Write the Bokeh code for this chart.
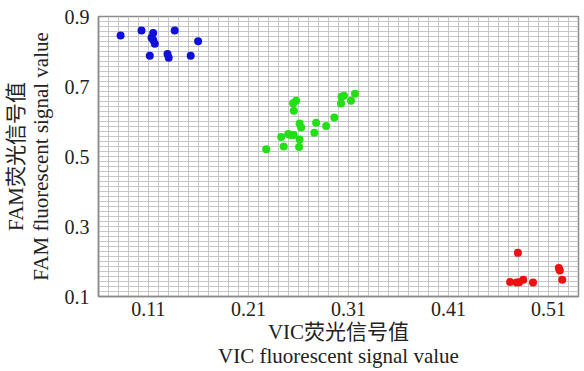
from bokeh.plotting import figure
from bokeh.models import FixedTicker, Range1d
from bokeh.embed import file_html
from bokeh.resources import INLINE

# ---- data ----
blue_x = [0.0821, 0.1030, 0.1147, 0.1130, 0.1147, 0.1163, 0.1362, 0.1596, 0.1113, 0.1290, 0.1302, 0.1522]
blue_y = [0.8455, 0.8600, 0.8530, 0.8390, 0.8330, 0.8220, 0.8600, 0.8290, 0.7880, 0.7930, 0.7820, 0.7880]

green_x = [0.2277, 0.2427, 0.2452, 0.2497, 0.2521, 0.2551, 0.2611, 0.2606, 0.2626, 0.2611, 0.2776,
           0.2759, 0.2876, 0.2958, 0.2546, 0.2576, 0.2553, 0.3030, 0.3055, 0.3025, 0.3125, 0.3165]
green_y = [0.5206, 0.5559, 0.5287, 0.5645, 0.5616, 0.5616, 0.5487, 0.5272, 0.5832, 0.5946, 0.5961,
           0.5682, 0.5875, 0.6113, 0.6520, 0.6591, 0.6305, 0.6706, 0.6735, 0.6514, 0.6591, 0.6792]

red_x = [0.4794, 0.4716, 0.4781, 0.4806, 0.4848, 0.4945, 0.5203, 0.5213, 0.5237]
red_y = [0.2247, 0.1416, 0.1401, 0.1410, 0.1479, 0.1401, 0.1811, 0.1746, 0.1479]

x_ticks = [0.11, 0.21, 0.31, 0.41, 0.51]
x_tick_labels = ["0.11", "0.21", "0.31", "0.41", "0.51"]
y_ticks = [0.1, 0.3, 0.5, 0.7, 0.9]
y_tick_labels = ["0.1", "0.3", "0.5", "0.7", "0.9"]

x_title = "VIC荧光信号值\nVIC fluorescent signal value"
y_title = "FAM荧光信号值\nFAM fluorescent signal value"

x_start, x_end = 0.06, 0.54
y_start, y_end = 0.1, 0.9
x_grid_step = 0.01
y_grid_step = 0.2 / 14

FONT = "'Liberation Serif', 'Noto Sans CJK SC'"

p = figure(width=582, height=371, output_backend="svg", toolbar_location=None,
           x_range=Range1d(x_start, x_end), y_range=Range1d(y_start, y_end),
           min_border_left=97, min_border_right=4, min_border_top=16, min_border_bottom=20)

p.background_fill_color = "white"
p.border_fill_color = "white"
p.outline_line_color = "#8a8a8a"
p.outline_line_width = 1.5

# grids
n_xg = int(round((x_end - x_start) / x_grid_step))
n_yg = int(round((y_end - y_start) / y_grid_step))
p.xgrid.ticker = FixedTicker(ticks=[x_start + i * x_grid_step for i in range(n_xg + 1)])
p.ygrid.ticker = FixedTicker(ticks=[y_start + i * y_grid_step for i in range(n_yg + 1)])
for g in (p.xgrid, p.ygrid):
    g.grid_line_color = "#c6c6c6"
    g.grid_line_width = 1
    g.grid_line_alpha = 1.0

# axes
p.xaxis.ticker = FixedTicker(ticks=x_ticks)
p.yaxis.ticker = FixedTicker(ticks=y_ticks)
p.xaxis.major_label_overrides = {t: l for t, l in zip(x_ticks, x_tick_labels)}
p.yaxis.major_label_overrides = {t: l for t, l in zip(y_ticks, y_tick_labels)}
for ax in (p.xaxis, p.yaxis):
    ax.axis_line_color = "#8a8a8a"
    ax.axis_line_width = 1.5
    ax.major_tick_line_color = None
    ax.minor_tick_line_color = None
    ax.major_tick_out = 0
    ax.major_tick_in = 0
    ax.minor_tick_out = 0
    ax.major_label_text_font = FONT
    ax.major_label_text_font_size = "20px"
    ax.major_label_text_color = "#222222"
    ax.axis_label_text_font = FONT
    ax.axis_label_text_font_size = "21px"
    ax.axis_label_text_font_style = "normal"
    ax.axis_label_text_color = "#222222"
    ax.axis_label_text_line_height = 1.04
p.xaxis.major_label_standoff = 5
p.yaxis.major_label_standoff = 9
p.xaxis.axis_label = x_title
p.yaxis.axis_label = y_title
p.xaxis.axis_label_standoff = 1
p.yaxis.axis_label_standoff = 9

p.scatter(blue_x, blue_y, size=8, color="#1010d8", line_color=None)
p.scatter(green_x, green_y, size=8, color="#22e016", line_color=None)
p.scatter(red_x, red_y, size=8, color="#ee1111", line_color=None)

open("out.html", "w").write(file_html(p, INLINE))
